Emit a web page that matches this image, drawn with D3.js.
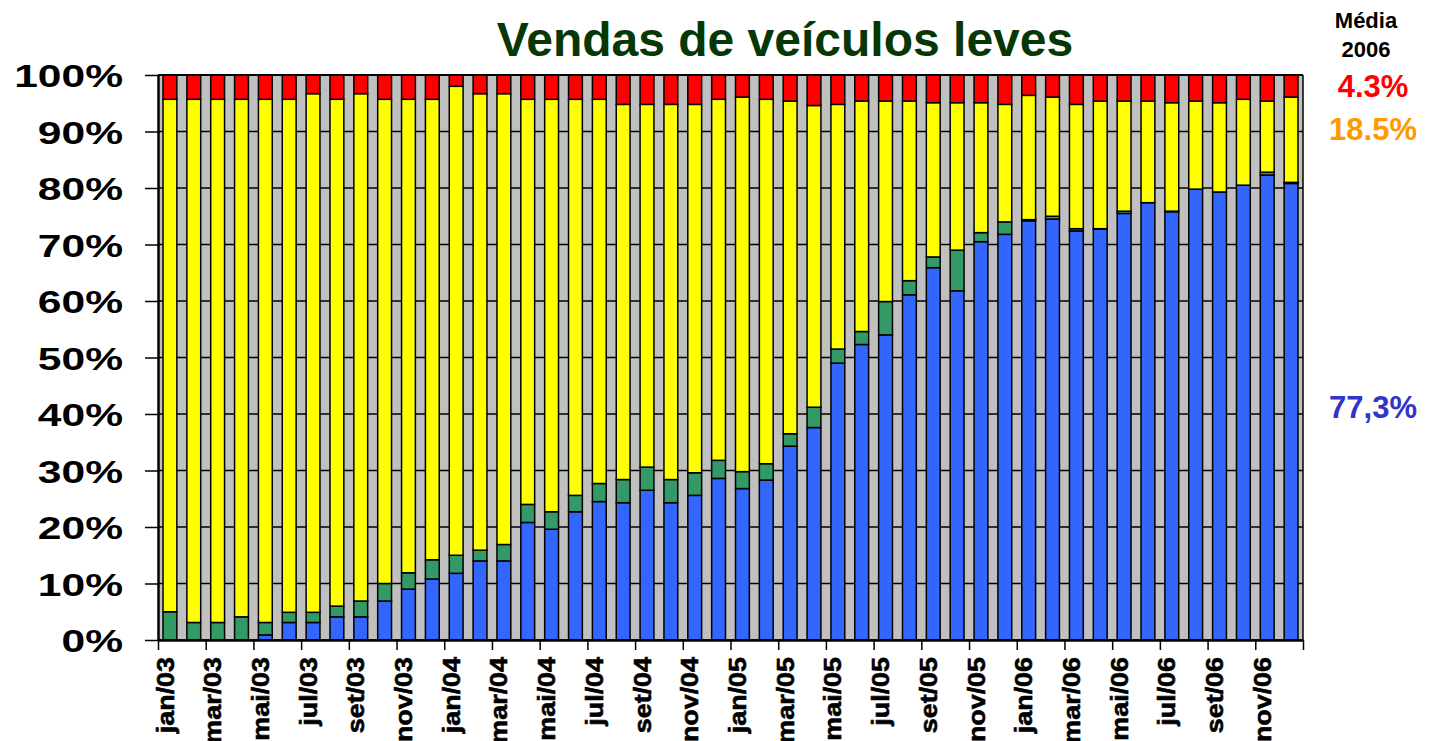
<!DOCTYPE html>
<html>
	<head>
		<meta charset="utf-8">
		<style type="text/css">
			body { margin: 0; background: white; font-family: "Liberation Sans", Arial, sans-serif; }
			svg { display: block; }
		</style>
		<title>Vendas de veículos leves</title>
	</head>
	<body>
		<script src="https://cdn.jsdelivr.net/npm/d3@7"></script>
		<script>

// months jan/03 .. dez/06
var months = ["jan/03","fev/03","mar/03","abr/03","mai/03","jun/03","jul/03","ago/03","set/03","out/03","nov/03","dez/03",
              "jan/04","fev/04","mar/04","abr/04","mai/04","jun/04","jul/04","ago/04","set/04","out/04","nov/04","dez/04",
              "jan/05","fev/05","mar/05","abr/05","mai/05","jun/05","jul/05","ago/05","set/05","out/05","nov/05","dez/05",
              "jan/06","fev/06","mar/06","abr/06","mai/06","jun/06","jul/06","ago/06","set/06","out/06","nov/06","dez/06"];

// share of sales (%) per segment, bottom to top
var flex = [0,0,0,0,0.9,3.1,3.1,4.1,4.1,6.9,9.0,10.8,
            11.8,14.0,14.0,20.8,19.6,22.7,24.5,24.3,26.5,24.3,25.6,28.6,
            26.8,28.3,34.3,37.6,49.0,52.3,54.0,61.1,65.9,61.8,70.5,71.8,
            74.2,74.5,72.4,72.7,75.5,77.4,75.8,79.8,79.3,80.5,82.3,80.8];
var alcool = [5.0,3.1,3.1,4.1,2.2,1.8,1.8,1.9,2.8,3.1,2.9,3.4,
              3.2,1.9,2.9,3.2,3.1,2.9,3.2,4.1,4.1,4.1,4.0,3.2,
              3.0,2.9,2.2,3.6,2.5,2.3,5.9,2.5,1.9,7.2,1.6,2.2,
              0.2,0.5,0.4,0.1,0.4,0,0.1,0,0,0,0.5,0.2];
var gasolina = [90.7,92.6,92.6,91.6,92.6,90.8,91.8,89.7,89.8,85.7,83.8,81.5,
                83.0,80.8,79.8,71.7,73.0,70.1,68.0,66.4,64.2,66.4,65.2,63.9,
                66.3,64.5,58.9,53.4,43.3,40.8,35.5,31.8,27.3,26.1,23.0,20.8,
                22.0,21.1,22.0,22.6,19.5,18.0,19.2,15.6,15.8,15.2,12.6,15.1];
var diesel = [4.3,4.3,4.3,4.3,4.3,4.3,3.3,4.3,3.3,4.3,4.3,4.3,
              2.0,3.3,3.3,4.3,4.3,4.3,4.3,5.2,5.2,5.2,5.2,4.3,
              3.9,4.3,4.6,5.4,5.2,4.6,4.6,4.6,4.9,4.9,4.9,5.2,
              3.6,3.9,5.2,4.6,4.6,4.6,4.9,4.6,4.9,4.3,4.6,3.9];

var seriesKeys = ["flex","alcool","gasolina","diesel"];
var seriesColors = ["#3366FF","#339966","#FFFF00","#FF0000"];

var yTicks = [0,10,20,30,40,50,60,70,80,90,100];

// 2006 averages shown at the right
var mediaLabels = [
    {text: "4.3%",  color: "#FF0000", y: 97},
    {text: "18.5%", color: "#FF9900", y: 140},
    {text: "77,3%", color: "#3333CC", y: 418}
];

var W = 1429, H = 741;
var plotL = 158, plotR = 1303, plotT = 75, plotB = 640;

var svg = d3.select("body").append("svg")
    .attr("width", W)
    .attr("height", H);

var table = months.map(function(m, i) {
    return {month: m, flex: flex[i], alcool: alcool[i], gasolina: gasolina[i], diesel: diesel[i]};
});
var stacked = d3.stack().keys(seriesKeys)(table);

var x = d3.scaleBand()
    .domain(months)
    .range([plotL, plotR])
    .paddingInner(0.42)
    .paddingOuter(0.21);

// linear index scale for ticks at band boundaries
var xi = d3.scaleLinear().domain([0, months.length]).range([plotL, plotR]);

var y = d3.scaleLinear()
    .domain([0, 100])
    .range([plotB, plotT]);

// plot background
svg.append("rect")
    .attr("x", plotL).attr("y", plotT)
    .attr("width", plotR - plotL).attr("height", plotB - plotT)
    .style("fill", "#C0C0C0");

// gridlines
svg.append("g").selectAll("line")
    .data(yTicks)
    .enter().append("line")
    .attr("x1", plotL).attr("x2", plotR)
    .attr("y1", function(d) { return y(d); })
    .attr("y2", function(d) { return y(d); })
    .style("stroke", "black").style("stroke-width", 1.5);

// bars
svg.append("g").selectAll("g")
    .data(stacked)
    .enter().append("g")
    .style("fill", function(d, i) { return seriesColors[i]; })
  .selectAll("rect")
    .data(function(d) { return d.filter(function(s) { return s[1] - s[0] > 0; }); })
    .enter().append("rect")
    .attr("x", function(d) { return x(d.data.month); })
    .attr("width", x.bandwidth())
    .attr("y", function(d) { return y(d[1]); })
    .attr("height", function(d) { return y(d[0]) - y(d[1]); })
    .style("stroke", "black").style("stroke-width", 1.5);

// frame
svg.append("line").attr("x1", plotL).attr("x2", plotR).attr("y1", plotT).attr("y2", plotT)
    .style("stroke", "black").style("stroke-width", 2);
svg.append("line").attr("x1", plotR).attr("x2", plotR).attr("y1", plotT).attr("y2", plotB)
    .style("stroke", "black").style("stroke-width", 1.5);

// y axis
var yAxis = d3.axisLeft(y)
    .tickValues(yTicks)
    .tickSizeInner(13).tickSizeOuter(0)
    .tickFormat(function(d) { return d + "%"; });

var yScaleX = 1.33;
var gy = svg.append("g")
    .attr("transform", "translate(" + plotL + ",0)")
    .call(yAxis);
gy.select(".domain").style("stroke", "black").style("stroke-width", 2.5);
gy.selectAll(".tick line").style("stroke", "black").style("stroke-width", 1.5);
gy.selectAll(".tick text")
    .attr("x", -35 / yScaleX)
    .attr("dy", "0.36em")
    .attr("transform", "scale(" + yScaleX + ",1)")
    .style("font-family", "'Liberation Sans', Arial, sans-serif")
    .style("font-weight", "bold")
    .style("font-size", "32px")
    .style("fill", "black");

// x axis, ticks every two months at band edges
var xTickIdx = d3.range(0, months.length + 1, 2);
var xAxis = d3.axisBottom(xi)
    .tickValues(xTickIdx)
    .tickSizeInner(10).tickSizeOuter(0)
    .tickFormat(function(d) { return d < months.length ? months[d] : ""; });

var xScaleLen = 1.12;
var gx = svg.append("g")
    .attr("transform", "translate(0," + plotB + ")")
    .call(xAxis);
gx.select(".domain").style("stroke", "black").style("stroke-width", 2.5);
gx.selectAll(".tick line").style("stroke", "black").style("stroke-width", 1.5);
gx.selectAll(".tick text")
    .attr("transform", "rotate(-90) scale(" + xScaleLen + ",1)")
    .attr("x", -17 / xScaleLen)
    .attr("y", 0)
    .attr("dy", "15px")
    .style("text-anchor", "end")
    .style("font-family", "'Liberation Sans', Arial, sans-serif")
    .style("font-weight", "bold")
    .style("font-size", "24px")
    .style("stroke", "black").style("stroke-width", 0.6)
    .style("fill", "black");

// title
svg.append("text")
    .attr("x", 785).attr("y", 56)
    .style("text-anchor", "middle")
    .style("font-weight", "bold")
    .style("font-size", "48px")
    .style("fill", "#063806")
    .text("Vendas de veículos leves");

// right annotations
svg.append("text")
    .attr("x", 1366).attr("y", 28)
    .style("text-anchor", "middle").style("font-weight", "bold").style("font-size", "22px")
    .text("Média");
svg.append("text")
    .attr("x", 1366).attr("y", 57)
    .style("text-anchor", "middle").style("font-weight", "bold").style("font-size", "22px")
    .text("2006");

svg.append("g").selectAll("text")
    .data(mediaLabels)
    .enter().append("text")
    .attr("x", 1373)
    .attr("y", function(d) { return d.y; })
    .style("text-anchor", "middle")
    .style("font-weight", "bold")
    .style("font-size", "31px")
    .style("fill", function(d) { return d.color; })
    .text(function(d) { return d.text; });

		</script>
	</body>
</html>
